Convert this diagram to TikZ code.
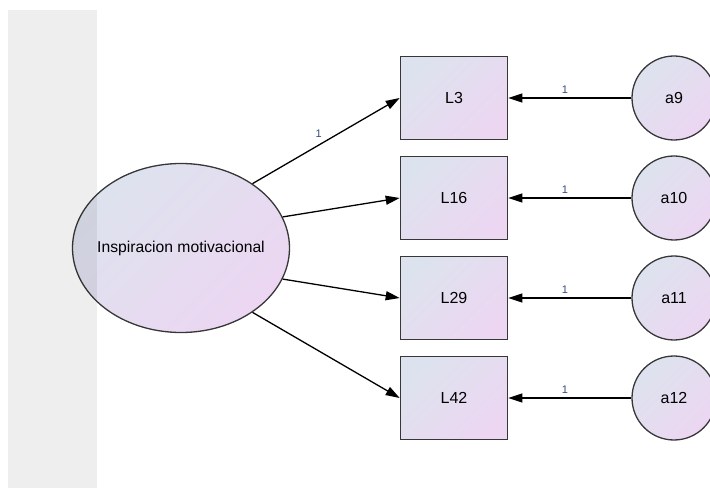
\documentclass[tikz,border=0pt]{standalone}
\usepackage{fontspec}
\setmainfont{Liberation Sans}
\usetikzlibrary{arrows.meta,shapes.geometric}
\definecolor{fillA}{RGB}{221,227,238}
\definecolor{fillB}{RGB}{236,214,242}
\definecolor{edgegray}{RGB}{55,55,55}
\definecolor{labelblue}{RGB}{55,75,125}

\begin{document}
\begin{tikzpicture}[x=1pt,y=-1pt,
  shadefill/.style={top color=fillA,bottom color=fillB,shading angle=45},
  latent/.style={ellipse,draw=edgegray,line width=1.3pt,shadefill,minimum width=217pt,minimum height=169pt,inner sep=0pt,label={[font=\fontsize{15.7}{18}\selectfont]center:#1}},
  observed/.style={rectangle,draw=edgegray,line width=1.6pt,shadefill,minimum width=107pt,minimum height=83pt,inner sep=0pt,font=\fontsize{16}{18}\selectfont},
  errvar/.style={circle,draw=edgegray,line width=1.3pt,shadefill,minimum size=84pt,inner sep=0pt,font=\fontsize{16}{18}\selectfont},
  regpath/.style={-{Triangle[length=14pt,width=9pt]},line width=1.3pt},
  wlabel/.style={font=\fontsize{11}{12}\selectfont,text=labelblue,inner sep=1pt}
]
\useasboundingbox (0,0) rectangle (710,489);
\node[latent={Inspiracion motivacional}] (IM) at (181,248) {};
\node[observed] (L3) at (454,98) {L3};
\node[observed] (L16) at (454,198) {L16};
\node[observed] (L29) at (454,298) {L29};
\node[observed] (L42) at (454,398) {L42};
\node[errvar] (a9) at (674,98) {a9};
\node[errvar] (a10) at (674,198) {a10};
\node[errvar] (a11) at (674,298) {a11};
\node[errvar] (a12) at (674,398) {a12};
% factor loadings
\draw[regpath] (IM.42) -- node[wlabel,pos=.45,above=6pt] {1} (L3.west);
\draw[regpath] (IM.17) -- (L16.west);
\draw[regpath] (IM.-17) -- (L29.west);
\draw[regpath] (IM.-42) -- (L42.west);
% errors
\draw[regpath] (a9) -- node[wlabel,pos=.54,above=3pt] {1} (L3);
\draw[regpath] (a10) -- node[wlabel,pos=.54,above=3pt] {1} (L16);
\draw[regpath] (a11) -- node[wlabel,pos=.54,above=3pt] {1} (L29);
\draw[regpath] (a12) -- node[wlabel,pos=.54,above=3pt] {1} (L42);
% side panel
\fill[black,opacity=.065] (8,10) rectangle (97,488);
\end{tikzpicture}
\end{document}
